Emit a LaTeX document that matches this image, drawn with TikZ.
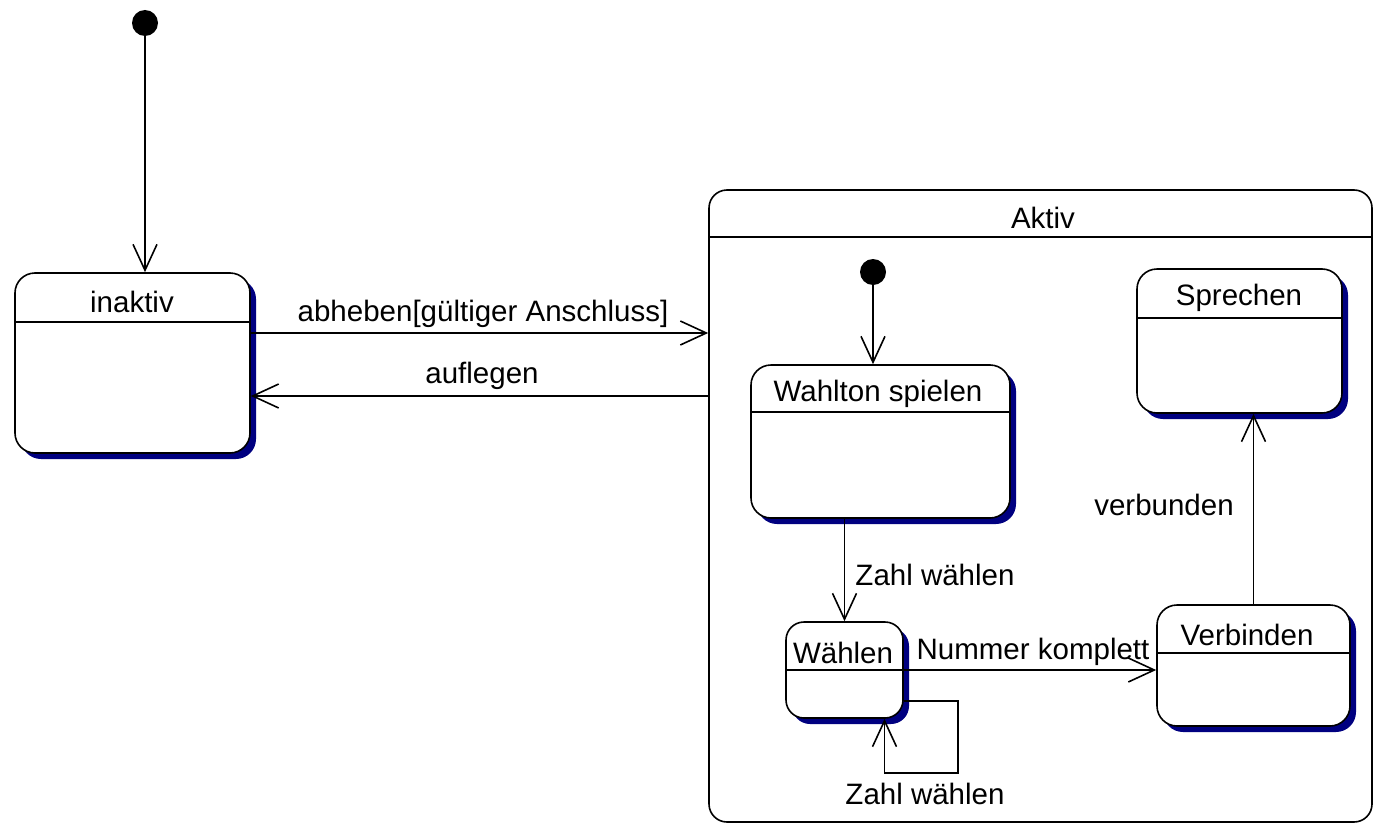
\documentclass[tikz,border=0pt]{standalone}
\usepackage{fontspec}
\setmainfont{Liberation Sans}
\usetikzlibrary{arrows.meta,shadows}
\definecolor{shadowblue}{RGB}{0,0,128}
\begin{document}
\begin{tikzpicture}[x=1pt,y=-1pt,
  font=\fontsize{29.5}{32}\selectfont,
  state/.style={draw=black, line width=1.6pt, fill=white, rounded corners=20pt,
    rectangle, inner sep=0pt,
    drop shadow={shadow xshift=6pt, shadow yshift=-6pt, fill=shadowblue, opacity=1}},
  container/.style={draw=black, line width=1.6pt, fill=white, rounded corners=18pt,
    rectangle, inner sep=0pt},
  sep/.style={line width=1.6pt},
  lbl/.style={inner sep=0pt, anchor=center},
  initial/.style={circle, fill=black, inner sep=0pt, minimum size=26pt},
  arr/.style={line width=1.6pt, -{Straight Barb[length=26pt,width=24pt,line width=1.6pt]}}
]
\useasboundingbox (0,0) rectangle (1375,824);

% Aktiv container
\node[container, minimum width=663pt, minimum height=632pt] (aktiv) at (1040.5,506) {};
\draw[sep] (aktiv.west |- 0,237) -- (aktiv.east |- 0,237);
\node[lbl] (aktivT) at (1043,218) {Aktiv};

% inaktiv
\node[state, minimum width=235pt, minimum height=180pt] (inaktiv) at (132.5,363) {};
\draw[sep] (inaktiv.west |- 0,322) -- (inaktiv.east |- 0,322);
\node[lbl] (inaktivT) at (132,302) {inaktiv};

% Wahlton spielen
\node[state, minimum width=259pt, minimum height=153pt] (wahlton) at (880.5,441.5) {};
\draw[sep] (wahlton.west |- 0,412) -- (wahlton.east |- 0,412);
\node[lbl] (wahltonT) at (878,394) {Wahlton spielen};

% Waehlen
\node[state, minimum width=117pt, minimum height=96pt, rounded corners=18pt] (wahlen) at (844.5,670) {};
\draw[sep] (wahlen.west |- 0,670) -- (wahlen.east |- 0,670);
\node[lbl] (wahlenT) at (843,653) {Wählen};

% Verbinden
\node[state, minimum width=193pt, minimum height=121pt] (verbinden) at (1253.5,665.5) {};
\draw[sep] (verbinden.west |- 0,653) -- (verbinden.east |- 0,653);
\node[lbl] (verbindenT) at (1247,635) {Verbinden};

% Sprechen
\node[state, minimum width=205pt, minimum height=144pt] (sprechen) at (1239.5,341) {};
\draw[sep] (sprechen.west |- 0,318) -- (sprechen.east |- 0,318);
\node[lbl] (sprechenT) at (1239,298) {Sprechen};

% initial states
\node[initial] (init1) at (145,23) {};
\node[initial] (init2) at (873,272) {};

% transitions
\draw[arr] (init1) -- (init1 |- inaktiv.north);
\draw[arr] (init2) -- (init2 |- wahlton.north);

\coordinate (a1) at ([yshift=30pt]inaktiv.east);
\draw[arr] (a1) -- (a1 -| aktiv.west);
\node[lbl] (l1) at (483,314) {abheben[gültiger Anschluss]};

\coordinate (a2) at ([yshift=-33pt]inaktiv.east);
\draw[arr] (a2 -| aktiv.west) -- (a2);
\node[lbl] (l2) at (482,376) {auflegen};

\draw[arr] (wahlen.north |- wahlton.south) -- (wahlen.north);
\node[lbl] (l3) at (935,575) {Zahl wählen};

\draw[arr] (wahlen.east) -- (wahlen.east -| verbinden.west);
\node[lbl] (l4) at (1033,652) {Nummer komplett};

\coordinate (s1) at ([yshift=-31pt]wahlen.east);
\coordinate (s2) at (958,773);
\coordinate (s3) at ([xshift=40pt]wahlen.south);
\draw[arr] (s1) -| (s2) -| (s3);
\node[lbl] (l5) at (925,794) {Zahl wählen};

\draw[arr] (verbinden.north) -- (verbinden.north |- sprechen.south);
\node[lbl] (l6) at (1164,505) {verbunden};
\end{tikzpicture}
\end{document}
